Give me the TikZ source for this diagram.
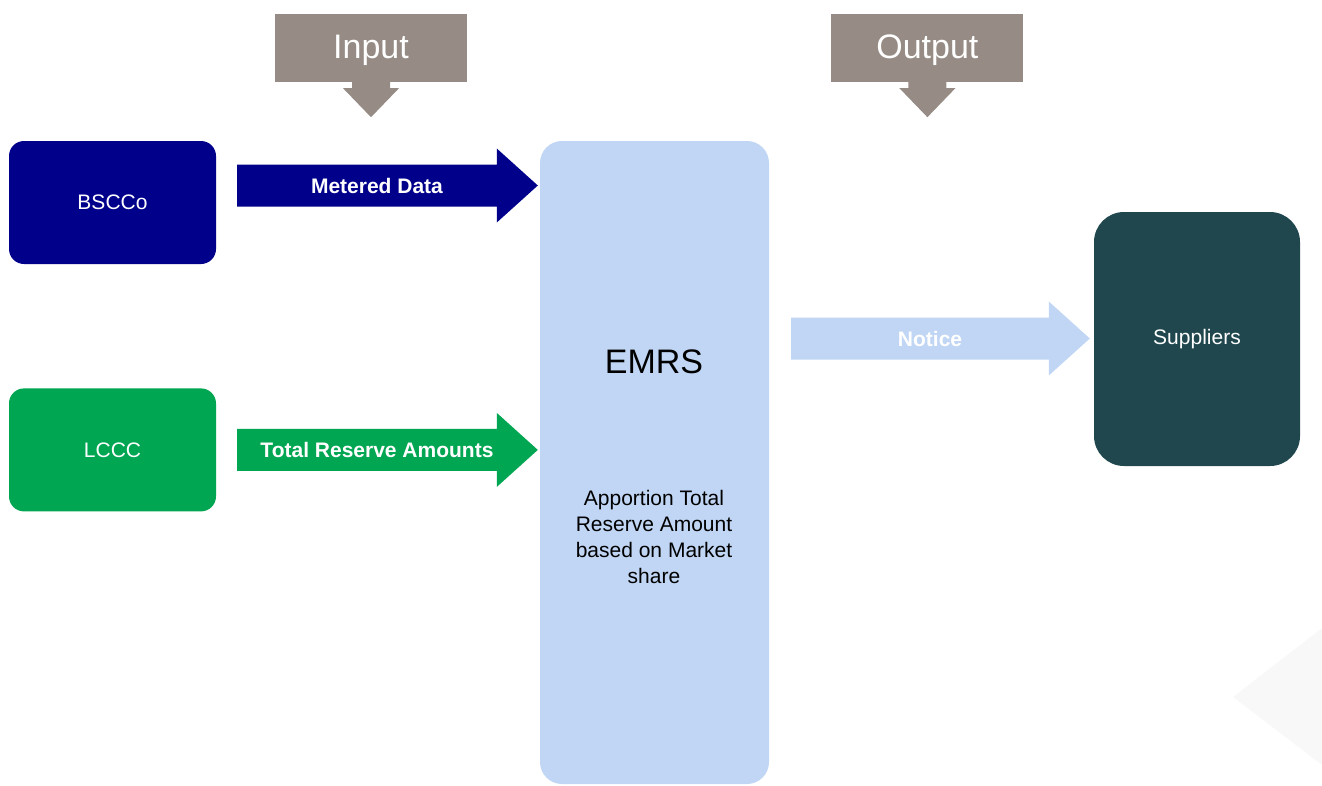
\documentclass[tikz,border=0pt]{standalone}
\usepackage{fontspec}
\setmainfont{Liberation Sans}
\usetikzlibrary{positioning}
\usetikzlibrary{calc}
\definecolor{navy}{RGB}{0,0,139}
\definecolor{leaf}{RGB}{0,166,81}
\definecolor{sky}{RGB}{192,214,244}
\definecolor{pine}{RGB}{31,71,77}
\definecolor{taupe}{RGB}{150,140,133}
\definecolor{ghost}{RGB}{248,248,248}

% block arrow: name, from, to, fill, label
\newcommand{\flowarrow}[5]{%
  \fill[#4] let \p1=(#2), \p2=(#3) in
    (\x1,\y1+21pt) -- (\x2-41pt,\y1+21pt) -- (\x2-41pt,\y1+37pt) -- (\x2,\y1)
    -- (\x2-41pt,\y1-37pt) -- (\x2-41pt,\y1-21pt) -- (\x1,\y1-21pt) -- cycle;
  \node[lbl] (#1) at ($(#2)!0.465!(#3)$) {#5};
}
% small down arrow under a tag
\newcommand{\droparrow}[1]{%
  \fill[taupe] ($(#1.south)+(-19,0)$) -- ++(0,6) -- ++(-9,0) -- ($(#1.south)+(0,35)$)
    -- ($(#1.south)+(28,6)$) -- ++(-9,0) -- ++(0,-6) -- cycle;
}

\begin{document}
\begin{tikzpicture}[
    x=1pt, y=-1pt,
    % node styles
    box/.style = {
      draw=none,
      rounded corners=15pt,
      minimum width=207pt,
      minimum height=123pt,
      inner sep=0pt,
      align=center,
      font=\fontsize{21}{26}\selectfont,
      text=white
    },
    tag/.style = {
      draw=none,
      fill=taupe,
      minimum width=192pt,
      minimum height=68pt,
      inner sep=0pt,
      text height=24pt,
      text depth=4pt,
      font=\fontsize{34}{40}\selectfont,
      text=white
    },
    lbl/.style = {
      font=\bfseries\fontsize{21}{26}\selectfont,
      text=white,
      inner sep=0pt
    },
    txt/.style = {
      align=center,
      font=\fontsize{21}{26}\selectfont,
      text=black
    }
  ]
  \useasboundingbox (0,0) rectangle (1322,785);

  % faint corner mark
  \fill[ghost] (1233,697) -- (1322,628) -- (1322,765) -- cycle;

  % --- Nodes
  \node[box, fill=navy] (bscco) at (112.5,202.5) {BSCCo};
  \node[box, fill=leaf, below=124pt of bscco] (lccc) {LCCC};
  \node[box, fill=sky, minimum width=229pt, minimum height=643pt,
        rounded corners=22pt] (emrs) at (654.5,462.5) {};
  \node[txt, font=\fontsize{34}{40}\selectfont] (emrstitle) at (654,362) {EMRS};
  \node[txt] (apportion) at (654,537) {Apportion Total\\Reserve Amount\\based on Market\\share};
  \node[box, fill=pine, minimum width=206pt, minimum height=254pt,
        rounded corners=30pt] (supp) at (1197,339) {Suppliers};

  % --- Input / Output tags
  \node[tag] (input) at (371,48) {Input};
  \node[tag, right=364pt of input] (output) {Output};
  \droparrow{input}
  \droparrow{output}

  % --- Arrows
  \coordinate (mds) at ($(bscco.east)+(21,-17)$);
  \coordinate (mde) at ($(emrs.west |- mds)+(-2,0)$);
  \flowarrow{metered}{mds}{mde}{navy}{Metered Data}

  \coordinate (trs) at ($(lccc.east)+(21,0)$);
  \coordinate (tre) at ($(emrs.west |- trs)+(-2,0)$);
  \flowarrow{reserve}{trs}{tre}{leaf}{Total Reserve Amounts}

  \coordinate (nts) at ($(emrs.east)+(22,-124)$);
  \coordinate (nte) at ($(supp.west |- nts)+(-4,0)$);
  \flowarrow{notice}{nts}{nte}{sky}{Notice}
\end{tikzpicture}
\end{document}
